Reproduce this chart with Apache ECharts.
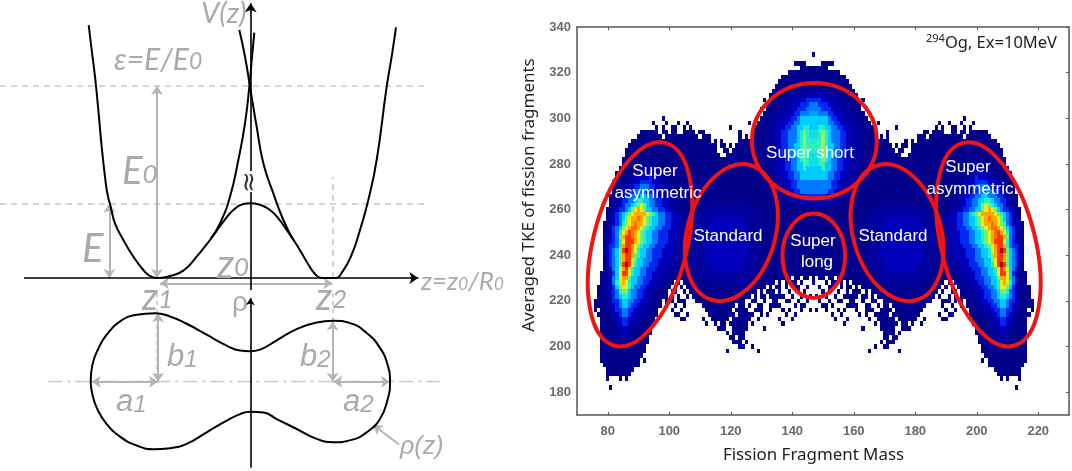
<!DOCTYPE html>
<html><head><meta charset="utf-8">
<style>html,body{margin:0;padding:0;background:#fff}#c{width:1072px;height:471px}</style>
<script src="https://cdn.jsdelivr.net/npm/echarts@6/dist/echarts.min.js"></script></head>
<body><div id="c"></div>
<script>
// ---- Left panel, potential V(z): [z, V] in drawing units
const wellCurve=[[-484,759],[-475,684],[-465,604],[-455,504],[-445,394],[-435,304],[-428,254],[-418,214],[-405,164],[-380,114],[-350,64],[-320,24],[-300,6],[-280,0],[-240,6],[-200,22],[-160,64],[-120,114],[-80,169],[-50,204],[-20,222],[0,224],[30,220],[60,204],[85,179],[110,144],[140,100],[170,49],[195,12],[215,0],[255,0],[278,20],[305,70],[330,144],[355,234],[380,354],[410,574],[425,664],[438,752]];
const leftCusp=[[-120,114],[-90,164],[-60,244],[-35,354],[-15,464],[-2,574],[7,674],[13,736]];
const rightCusp=[[130,114],[100,174],[70,254],[40,344],[20,454],[0,574],[-15,664],[-32,744]];
// ---- Left panel, shape rho(z): [z, rho]
const rhoCurve=[[-478,0],[-473,50],[-455,100],[-430,142],[-390,182],[-340,202],[-285,207],[-240,197],[-190,175],[-130,142],[-70,109],[-30,94],[0,92],[30,97],[80,125],[140,159],[200,179],[250,184],[300,177],[350,147],[390,102],[413,50],[420,0],[413,-53],[390,-113],[350,-153],[305,-176],[250,-183],[200,-173],[140,-143],[80,-113],[40,-93],[0,-91],[-30,-98],[-70,-118],[-130,-153],[-190,-188],[-240,-201],[-290,-204],[-340,-193],[-390,-166],[-430,-128],[-458,-83],[-473,-38],[-478,0]];
// guides: [[x1,y1],[x2,y2]]
const potDashed=[[[-750,576],[530,576]],[[-750,223],[530,223]],[[247,0],[247,304]]];
const potDoubleArrows=[[[-279,576],[-279,0]],[[-422,223],[-422,0]],[[-270,-16],[247,-16]]];
const potAxes=[[[-678,0],[505,0]],[2,0]];
const rhoDashed=[[[-280,292],[-280,0]],[[247,292],[247,184]]];
const rhoDashDot=[[[-605,0],[575,0]]];
const rhoDoubleArrows=[[[-475,0],[-276,0]],[[-276,207],[-276,0]],[[248,182],[248,0]],[[250,0],[420,0]]];

// ---- Right panel axes
const massTicks=[80,100,120,140,160,180,200,220];
const tkeTicks=[180,200,220,240,260,280,300,320,340];
// ---- Fragment yield map, level per cell. One row per TKE; runs are
// startMass,level,... up to the symmetric mass 147; the other half is A -> 294-A.
const tkeRows=[328,324,322,320,318,316,314,312,310,308,306,304,302,300,298,296,294,292,290,288,286,284,282,280,278,276,274,272,270,268,266,264,262,260,258,256,254,252,250,248,246,244,242,240,238,236,234,232,230,228,226,224,222,220,218,216,214,212,210,208,206,204,202,200,198,196,194,192,190,188,186,182];
const rowRuns=[
[147,1],
[141,1,145,0],
[143,1],
[139,1],
[137,1],
[136,1],
[135,1],
[134,1,143,2],
[133,1,139,2,144,3],
[131,1,132,0,133,1,137,2,141,3,145,4],
[132,1,136,2,140,3,143,4,146,5],
[130,1,131,0,132,1,135,2,139,3,142,4,145,5],
[131,1,134,2,138,3,141,4,143,5,146,5.5],
[98,1,99,0,130,1,133,2,137,3,140,4,142,5,143,6],
[95,1,96,0,99,1,100,0,103,1,104,0,106,1,107,0,126,1,127,0,129,1,133,2,136,3,139,4,141,5,143,6],
[96,1,97,0,98,1,99,0,101,1,103,0,105,1,106,0,107,1,108,0,120,1,121,0,128,1,132,2,135,3,138,4,140,5,142,6,144,7,146,6],
[91,1,97,0,98,1,100,0,101,1,103,0,105,1,109,0,110,1,112,0,123,1,124,0,127,1,132,2,135,3,137,4,139,5,142,6,143,7,144,8,145,7,146,6.5],
[90,1,98,0,99,1,110,0,111,1,114,0,123,1,124,0,125,1,126,0,127,1,132,2,135,3,137,4,139,5,142,6,143,7,144,8.3,145,7,146,6.5],
[88,1,114,0,115,1,116,0,117,1,118,0,123,1,132,2,135,3,137,4,139,5,142,6,143,7,144,8.5,145,7,146,7],
[87,1,116,0,117,1,119,0,120,1,121,0,122,1,132,2,135,3,137,4,139,5,141,6,143,7,144,8.3,145,7.3,146,7],
[86,1,116,0,118,1,120,0,121,1,132,2,135,3,137,4,139,5,141,6,143,7,144,8.3,145,7.3,146,7],
[86,1,117,0,119,1,132,2,135,3,137,4,139,5,141,6,143,7,144,8,145,7,146,6.5],
[85,1,132,2,135,3,138,4,140,5,142,6,143,7,144,8,145,7,146,6.5],
[85,1,92,2,96,1,133,2,135,3,138,4,140,5,142,6,144,7.5,145,7,146,6.5],
[84,1,90,2,97,1,133,2,136,3,138,4,140,5,142,6,144,7,145,6],
[83,1,89,2,92,3,95,2,98,1,133,2,136,3,139,4,141,5,143,6],
[83,1,87,2,90,3,94,4,95,3,97,2,99,1,134,2,137,3,139,4,141,5,143,6],
[82,1,86,2,88,3,91,4,95,3,98,2,100,1,134,2,137,3,140,4,142,5],
[82,1,85,2,87,3,89,4,91,5,94,4,96,3,98,2,101,1,135,2,138,3,140,4,142,5],
[82,1,84,2,85,3,87,4,89,5,93,4,96,3,98,2,101,1,135,2,139,3,141,4,143,5],
[81,1,83,2,85,3,86,4,88,5,91,6,93,5,95,4,97,3,99,2,102,1,137,2,141,3,144,4],
[81,1,83,2,84,3,85,4,87,5,89,6,90,7,92,6,94,5,96,4,98,3,100,2,103,1,139,2,143,3],
[81,1,83,2,84,3,85,4,86,5,88,6,89,7,90,8,91,9,92,8,93,6,94,5,96,4,98,3,100,2,103,1,113,2,125,1,142,2],
[80,1,82,2,83,3,84,4,86,5,87,6,88,8,89,9,90,10,91,9,92,8,93,6,95,5,97,4,99,3,101,2,104,1,111,2,128,1],
[80,1,81,2,82,3,83,4,84,5,85,6,86,7,87,8,88,9,89,10,93,9,94,8,95,7,96,6,97,5,99,4,101,3,103,2,105,1,110,2,129,1],
[80,1,81,2,82,3,83,4,84,5,85,6,86,8,87,9,88,10,90,10.5,91,10,92,9,93,8,94,7,95,6,97,5,99,4,101,3,104,2,106,1,109,2,114,3,124,2,130,1],
[79,1,81,2,82,3,83,4,84,5,85,7,86,8,87,9,88,10,89,10.5,90,10,92,9,93,8,94,7,95,6,97,5,99,4,101,3,104,2,106,1,109,2,113,3,125,2,130,1],
[79,1,80,2,81,3,82,4,83,5,84,6,85,8,86,9,87,10,88,10.5,90,10,91,9,92,8,93,7,94,6,96,5,98,4,101,3,103,2,106,1,108,2,112,3,126,2,131,1],
[79,1,80,2,81,3,82,4,83,5,84,7,85,9,86,10,87,11,88,10.5,89,10,90,9,91,8,92,7,93,6,95,5,97,4,100,3,103,2,106,1,108,2,112,3,126,2,131,1],
[79,1,80,2,81,3,82,4,83,5,84,8,85,10,86,11,88,10.5,89,10,90,9,91,8,92,7,93,6,95,5,97,4,100,3,103,2,106,1,108,2,112,3,126,2,131,1],
[79,1,80,2,81,3,82,4,83,5,84,7,85,9,86,11,89,10,90,9,91,8,92,7,93,6,95,5,97,4,100,3,103,2,106,1,108,2,112,3,126,2,130,1],
[79,1,80,3,81,4,83,5,84,7,85,10,86,11,88,10,89,9,90,8,91,7,92,6,94,5,96,4,99,3,102,2,105,1,108,2,112,3,126,2,130,1],
[79,1,80,3,81,4,82,5,83,6,84,8,85,11,86,12,87,11,88,10,89,9,90,7,91,6,93,5,95,4,98,3,102,2,105,1,108,2,112,3,126,2,130,1],
[79,1,80,3,81,4,82,5,83,6,84,8,85,10,86,11,88,10,89,8,90,7,91,6,93,5,95,4,98,3,102,2,105,1,108,2,112,3,126,2,130,1],
[79,1,80,3,81,4,82,5,83,6,84,8,85,10,86,11,88,9,89,8,90,6,92,5,95,4,97,3,101,2,104,1,108,2,112,3,125,2,130,1],
[79,1,80,2,81,4,82,5,83,6,84,8,85,11,86,12,87,11,88,9,89,7,90,6,92,5,94,4,97,3,100,2,104,1,108,2,113,3,125,2,129,1],
[79,1,80,2,81,3,82,5,83,6,84,9,85,10,86,11,87,9,88,7,89,6,91,5,93,4,96,3,99,2,103,1,109,2,114,3,124,2,129,1],
[78,1,80,2,81,3,82,4,83,6,84,9,85,11,87,9,88,7,89,6,91,5,93,4,95,3,98,2,102,1,109,2,127,1],
[78,1,79,2,81,3,82,5,83,6,84,9,85,10,87,8,88,6,90,5,92,4,95,3,97,2,101,1,111,2,126,1,140,0,141,1,143,0,144,1,146,0,147,1],
[78,1,80,2,81,3,82,5,83,7,84,9,85,10,86,9,87,7,88,6,90,5,92,4,94,3,96,2,99,1,102,0,103,1,104,0,105,1,113,2,125,1,135,0,136,1,137,0,138,1,139,0,140,1,142,0,143,1,144,0,147,1],
[77,1,79,2,81,3,82,4,83,6,84,8,85,9,87,7,88,6,89,5,91,4,93,3,95,2,98,1,101,0,102,1,103,0,104,1,105,0,106,1,132,0,133,1,134,0,135,1,137,0,138,1,139,0,141,1,143,0,145,1,146,0],
[77,1,79,2,81,3,82,4,83,5,84,7,85,8,87,6,88,5,90,4,92,3,94,2,97,1,100,0,101,1,103,0,105,1,106,0,107,1,129,0,130,1,131,0,132,1,135,0,136,1,137,0,139,1,140,0,142,1,143,0,144,1,145,0],
[77,1,80,2,81,3,82,4,83,5,84,6,85,7,87,6,88,5,90,4,92,3,94,2,96,1,100,0,101,1,102,0,103,1,104,0,106,1,107,0,108,1,127,0,128,1,129,0,130,1,132,0,133,1,138,0,140,1,141,0,143,1,144,0,146,1,147,0],
[76,1,80,2,81,3,82,4,84,5,85,6,87,5,89,4,91,3,93,2,95,1,98,0,99,1,100,0,101,1,102,0,103,1,106,0,109,1,125,0,127,1,129,0,131,1,132,0,134,1,136,0,138,1,140,0,142,1,143,0,145,1,146,0],
[76,1,80,2,82,3,83,4,84,5,85,6,87,5,88,4,90,3,92,2,95,1,98,0,99,1,100,0,102,1,103,0,105,1,106,0,111,1,122,0,123,1,125,0,126,1,127,0,129,1,131,0,133,1,137,0,141,1,142,0,143,1,145,0],
[76,1,77,0,78,1,81,2,82,3,83,4,85,5,87,4,89,3,91,2,94,1,97,0,101,1,102,0,104,1,105,0,112,1,121,0,122,1,126,0,128,1,131,0,133,1,134,0,137,1,138,0,139,1,140,0,143,1,144,0,146,1,147,0],
[77,1,81,2,83,3,84,4,85,5,87,4,88,3,90,2,93,1,97,0,102,1,104,0,106,1,107,0,113,1,122,0,123,1,128,0,130,1,131,0,132,1,133,0,138,1,139,0,141,1,142,0],
[78,1,82,2,83,3,85,4,87,3,89,2,92,1,96,0,104,1,106,0,111,1,112,0,114,1,120,0,121,1,127,0,129,1,130,0,136,1,137,0,140,1,141,0],
[78,1,82,2,84,3,85,4,87,3,88,2,91,1,96,0,112,1,113,0,115,1,116,0,117,1,119,0,120,1,126,0,127,1,128,0,137,1,138,0],
[78,1,83,2,85,3,87,2,90,1,95,0,116,1,119,0,121,1,126,0,131,1,132,0],
[78,1,83,2,85,3,87,2,89,1,95,0,119,1,120,0,121,1,125,0],
[78,1,84,2,88,1,94,0,120,1,122,0,123,1,125,0],
[78,1,84,2,87,1,94,0,121,1,124,0,125,1,126,0],
[78,1,85,2,87,1,93,0,123,1,125,0,127,1,128,0],
[78,1,93,0,119,1,120,0,129,1,130,0],
[78,1,92,0],
[78,1,91,0,92,1,93,0],
[79,1,91,0],
[80,1,89,0],
[80,1,88,0],
[80,1,81,0,84,1,85,0,86,1,87,0],
[81,1,82,0]
];
// jet colour stops for the yield levels
const levelColors=['#00008a','#00009e','#0000bc','#0028f0','#0078ff','#00ccff','#28eec8','#74f070','#e0f020','#ffa800','#ff3800','#a80000'];
// Fission-mode ellipses: centre mass, centre TKE, semi-axes (mass, TKE units), tilt degrees
const modeEllipses=[[90.5,244.8,15.3,45.8,-14],[203.8,244.8,15.3,45.8,14],[120.2,249.9,14.3,30.7,-16],[174.1,249.9,14.3,30.7,16],[147.2,290.2,20.3,25.3,0],[147,239.8,10.2,18.5,0]];

const cells=[];
tkeRows.forEach((t,i)=>{
  const runs=rowRuns[i];
  for(let k=0;k<runs.length;k+=2){
    const end=k+2<runs.length?runs[k+2]:148;
    if(runs[k+1]===0)continue;
    for(let m=runs[k];m<end;m++){
      cells.push([m,t,runs[k+1]]);
      if(m!==147)cells.push([294-m,t,runs[k+1]]);
    }
  }
});

const GRAY='#b4b4b4',TXT='#aaaaaa';
const lineSeries=(data,grid,extra)=>Object.assign({type:'line',xAxisIndex:grid,yAxisIndex:grid,data,showSymbol:false,symbol:'none',smooth:0.5,lineStyle:{color:'#000',width:2},silent:true,z:5},extra||{});
const linesSeries=(segs,grid,color,width,type,symbol,size,z)=>({type:'lines',coordinateSystem:'cartesian2d',xAxisIndex:grid,yAxisIndex:grid,data:segs.map(s=>({coords:s})),lineStyle:{color,width,type,opacity:1},symbol,symbolSize:size,silent:true,z:z||3});

const F='Lato, sans-serif',A='"Liberation Sans", Arial, sans-serif';
function lab(text,x,y,size,opts){
  opts=opts||{};
  return {type:'text',x,y,z:opts.z||30,rotation:opts.rot||0,style:Object.assign({text,fill:opts.fill||TXT,font:(opts.style||'italic')+' '+size+'px '+(opts.font||F),align:opts.align||'left',verticalAlign:'middle'},opts.extra||{})};
}
function sub(main,subs,x,y,size,subSize,opts){
  opts=opts||{};
  const font=opts.font||F;
  return {type:'text',x,y,z:30,style:{text:main.map((m,i)=>'{m|'+m+'}{s|'+subs[i]+'}').join(''),align:'left',verticalAlign:'middle',
   rich:{m:{fill:TXT,font:'italic '+size+'px '+font},s:{fill:TXT,font:'italic '+subSize+'px '+font,padding:[opts.drop||6,0,0,0]}}}};
}
const W=(t,x,y)=>lab(t,x,y,17,{fill:'#fff',style:'normal',font:A,align:'center'});

const graphic=[
 lab('V(z)',201,14,29),
 sub(['ε=E/E'],['0'],114,60,30,23,{drop:4}),
 sub(['E'],['0'],122,172,38,26),
 lab('E',82,249,40),
 sub(['z'],['0'],217,265,40,26),
 sub(['z=z','/R'],['0','0'],421,282,26,17),
 sub(['z'],['1'],142,298,38,26,{drop:4}),
 sub(['z'],['2'],316,298,38,26,{drop:4}),
 lab('ρ',232,303,28,{style:'normal',font:A}),
 sub(['b'],['1'],167,357,31,24,{font:A}),
 sub(['b'],['2'],300,357,31,24,{font:A}),
 sub(['a'],['1'],116,402,31,24,{font:A}),
 sub(['a'],['2'],343,402,31,24,{font:A}),
 lab('ρ(z)',400,447,25,{font:A}),
 {type:'rect',shape:{x:243,y:171,width:14,height:21},style:{fill:'#fff'},z:10},
 lab('≈',250,182,26,{fill:'#333',style:'normal',font:'"DejaVu Sans"',align:'center',rot:Math.PI/2,z:11}),
 // right-panel text
 W('Super',655,171),W('asymmetric',658,193),W('Super',968,167),W('asymmetric',970,189),
 W('Standard',728,236),W('Standard',893,236),W('Super',813,241),W('long',817,262),W('Super short',810,153),
 {type:'text',x:926,y:43,z:30,style:{text:'{s|294}{m|Og, Ex=10MeV}',align:'left',verticalAlign:'middle',rich:{s:{fill:'#222',font:'11px "Noto Sans"',padding:[0,0,8,0]},m:{fill:'#222',font:'16.5px "Noto Sans"'}}}},
 lab('Fission Fragment Mass',813.5,455,16.9,{fill:'#222',style:'normal',font:'"Noto Sans"',align:'center'}),
 lab('Averaged TKE of fission fragments',529,195,17,{fill:'#222',style:'normal',font:'"Noto Sans"',align:'center',rot:Math.PI/2})
];

const hiddenX=(min,max,g)=>({type:'value',gridIndex:g,min,max,show:false});
const option={
 animation:false,
 backgroundColor:'#fff',
 grid:[
  {left:0,top:0,width:480,height:471},
  {left:0,top:292.33,width:480,height:180},
  {left:577,top:27,width:492,height:388}
 ],
 xAxis:[hiddenX(-750,690,0),hiddenX(-750,690,1),
  {type:'value',gridIndex:2,min:70,max:230,position:'bottom',splitLine:{show:false},
   axisLine:{show:true,onZero:false,lineStyle:{color:'#555',width:1.5}},
   axisTick:{show:true,inside:true,length:3,lineStyle:{color:'#555'},customValues:massTicks},
   axisLabel:{color:'#6a6a6a',fontSize:13,fontFamily:A,fontWeight:'bold',margin:10,customValues:massTicks}},
  {type:'value',gridIndex:2,min:70,max:230,position:'top',splitLine:{show:false},
   axisLine:{show:true,onZero:false,lineStyle:{color:'#555',width:1.5}},
   axisTick:{show:true,inside:true,length:3,lineStyle:{color:'#555'},customValues:massTicks},
   axisLabel:{show:false}}],
 yAxis:[hiddenX(-579,834,0),hiddenX(-270,270,1),
  {type:'value',gridIndex:2,min:170,max:340,position:'left',splitLine:{show:false},
   axisLine:{show:true,onZero:false,lineStyle:{color:'#555',width:1.5}},
   axisTick:{show:false},
   axisLabel:{color:'#6a6a6a',fontSize:13,fontFamily:A,fontWeight:'bold',margin:6,customValues:tkeTicks}},
  {type:'value',gridIndex:2,min:170,max:340,position:'right',splitLine:{show:false},
   axisLine:{show:true,onZero:false,lineStyle:{color:'#555',width:1.5}},
   axisTick:{show:true,inside:true,length:3,lineStyle:{color:'#555'},customValues:tkeTicks},
   axisLabel:{show:false}}],
 visualMap:{show:false,type:'continuous',min:1,max:12,dimension:2,seriesIndex:0,inRange:{color:levelColors}},
 series:[
  {type:'custom',coordinateSystem:'cartesian2d',xAxisIndex:2,yAxisIndex:2,data:cells,silent:true,z:2,encode:{x:0,y:1},
   renderItem(params,api){
     const a=api.coord([api.value(0)-0.5,api.value(1)+1]),b=api.coord([api.value(0)+0.5,api.value(1)-1]);
     const x=Math.round(a[0]),y=Math.round(a[1]);
     return {type:'rect',shape:{x,y,width:Math.round(b[0])-x,height:Math.round(b[1])-y},style:{fill:api.visual('color')}};
   }},
  {type:'custom',coordinateSystem:'cartesian2d',xAxisIndex:2,yAxisIndex:2,data:modeEllipses,silent:true,z:4,encode:{x:0,y:1},
   renderItem(params,api){
     const c=api.coord([api.value(0),api.value(1)]),s=api.size([api.value(2),api.value(3)]);
     return {type:'ellipse',x:c[0],y:c[1],rotation:api.value(4)*Math.PI/180,shape:{cx:0,cy:0,rx:s[0],ry:s[1]},style:{fill:'none',stroke:'#f01414',lineWidth:4}};
   }},
  lineSeries(wellCurve,0),lineSeries(leftCusp,0),lineSeries(rightCusp,0),
  lineSeries(rhoCurve,1),
  linesSeries(potDashed,0,'#c8c8c8',1.6,[6,5],['none','none'],0,2),
  linesSeries(potDoubleArrows,0,GRAY,2,'solid',['arrow','arrow'],9),
  linesSeries([potAxes[0]],0,'#000',1.6,'solid',['none','arrow'],9,6),
  linesSeries([[[2,-36],[2,824]]],0,'#000',1.6,'solid',['none','arrow'],9,6),
  linesSeries(rhoDashed,1,'#c8c8c8',1.6,[4,4],['none','none'],0,2),
  linesSeries(rhoDashDot,1,'#c8c8c8',1.4,[14,5,3,5],['none','none'],0,2),
  linesSeries(rhoDoubleArrows,1,GRAY,2,'solid',['arrow','arrow'],9),
  linesSeries([[[447,-190],[370,-131]]],1,GRAY,2,'solid',['none','arrow'],9),
  linesSeries([[[1,-260],[1,252]]],1,'#000',1.6,'solid',['none','arrow'],7,6)
 ],
 graphic
};
echarts.init(document.getElementById('c'),null,{renderer:'canvas'}).setOption(option);
</script></body></html>
